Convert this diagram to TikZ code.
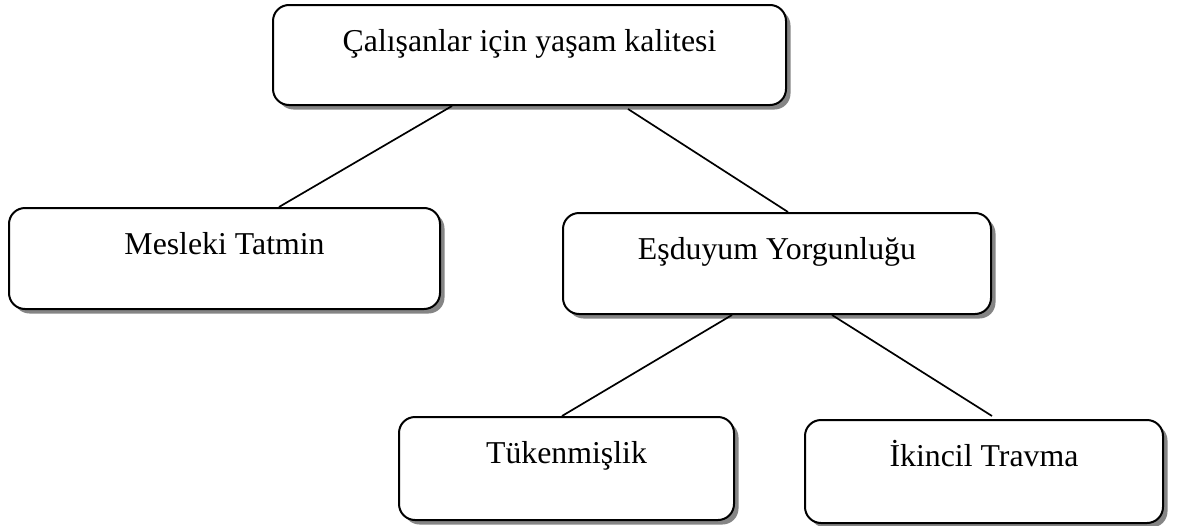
\documentclass[tikz,border=0pt]{standalone}
\usepackage{fontspec}
\setmainfont{Liberation Serif}
\usetikzlibrary{shadows}
\begin{document}
\begin{tikzpicture}[x=1pt,y=-1pt,
  box/.style={draw=black, line width=2pt, rounded corners=16pt, fill=white,
    inner sep=0pt, anchor=north west, text height=46pt,
    font=\fontsize{31.8pt}{38pt}\selectfont,
    drop shadow={shadow xshift=4.5pt, shadow yshift=-4.5pt, fill=black!48, opacity=1}},
  link/.style={draw=black, line width=1.7pt}]
\useasboundingbox (0,0) rectangle (1178,525);
\node[box, minimum width=513pt, text depth=54pt] (top) at (272,4) {Çalışanlar için yaşam kalitesi};
\node[box, minimum width=431pt, text depth=55pt] (mes) at (8,207) {Mesleki Tatmin};
\node[box, minimum width=428pt, text depth=55pt] (esd) at (562,212) {Eşduyum Yorgunluğu};
\node[box, minimum width=335pt, text depth=57pt] (tuk) at (398,416) {Tükenmişlik};
\node[box, minimum width=358pt, text depth=57pt] (iki) at (804,419) {İkincil Travma};
\draw[link] ([xshift=180pt]top.south west) -- ([xshift=271pt]mes.north west);
\draw[link] ([xshift=356pt,yshift=-3pt]top.south west) -- ([xshift=226pt]esd.north west);
\draw[link] ([xshift=170pt]esd.south west) -- ([xshift=164pt]tuk.north west);
\draw[link] ([xshift=270pt]esd.south west) -- ([xshift=188pt,yshift=3pt]iki.north west);
\end{tikzpicture}
\end{document}
